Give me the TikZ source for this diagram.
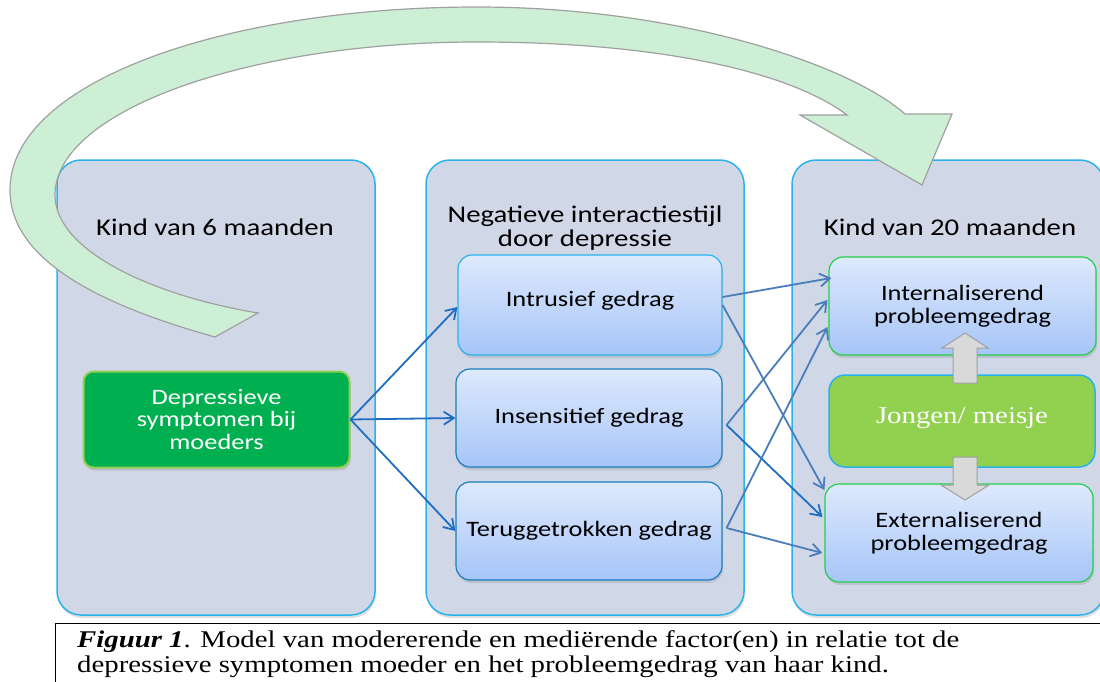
\documentclass[tikz,border=0pt]{standalone}
\usepackage{fontspec}
\setmainfont{Carlito}[FakeStretch=1.2]
\newfontfamily\capfont{Liberation Serif}[FakeStretch=1.2]
\usetikzlibrary{arrows.meta,shadows}
\definecolor{panelfill}{HTML}{D0D8E8}
\definecolor{panelline}{HTML}{29B3EA}
\definecolor{boxtop}{HTML}{DEE9FC}
\definecolor{boxbottom}{HTML}{A6C5F8}
\definecolor{boxline}{HTML}{1A7DBE}
\definecolor{deepgreen}{HTML}{00B050}
\definecolor{lightgreen}{HTML}{92D050}
\definecolor{edgegreen}{HTML}{22D04A}
\definecolor{bandfill}{HTML}{CCEFD6}
\definecolor{bandline}{HTML}{A0A0A0}
\definecolor{arrowblue}{HTML}{1F6EC2}
\definecolor{linkblue}{HTML}{4A7EBB}
\definecolor{blockfill}{HTML}{D9D9D9}
\begin{document}
\begin{tikzpicture}[x=1pt,y=-1pt,>={Straight Barb[length=10pt,width=13pt]},
  softshadow/.style={drop shadow={opacity=0.25,shadow xshift=1pt,shadow yshift=-3pt}},
  panel/.style={draw=panelline,line width=1.5pt,fill=panelfill,rounded corners=24pt,
    minimum width=318pt,minimum height=455pt,softshadow},
  heading/.style={font=\fontsize{24}{24}\selectfont,align=center},
  subbox/.style={draw=panelline,line width=1.2pt,top color=boxtop,bottom color=boxbottom,
    rounded corners=14pt,minimum width=266pt,minimum height=98pt,align=center,
    font=\fontsize{22}{23}\selectfont,softshadow},
  probbox/.style={subbox,draw=edgegreen},
  startbox/.style={draw=lightgreen,line width=2pt,fill=deepgreen,text=white,rounded corners=10pt,
    minimum width=266pt,minimum height=96pt,align=center,font=\fontsize{22}{22.5}\selectfont,softshadow},
  genderbox/.style={draw=panelline,line width=1.5pt,fill=lightgreen,text=white,rounded corners=16pt,
    minimum width=266pt,minimum height=92pt,font=\capfont\fontsize{24}{24}\selectfont},
  bluearrow/.style={->,draw=arrowblue,line width=1.8pt},
  linkarrow/.style={->,draw=linkblue,line width=1.8pt},
  blockarrow/.style={draw=bandline,fill=blockfill,line width=1pt,line join=miter},
  band/.style={draw=bandline,fill=bandfill,line width=1.2pt,line join=miter}]
\useasboundingbox (0,0) rectangle (1100,681);
% three columns
\node[panel] (col1) at (216,387.5) {};
\node[panel] (col2) at (585,387.5) {};
\node[panel,minimum width=312pt] (col3) at (948,387.5) {};
\node[heading] (head1) at (215,227) {Kind van 6 maanden};
\node[heading] (head2) at (585,228) {Negatieve interactiestijl\\door depressie};
\node[heading] (head3) at (950,227) {Kind van 20 maanden};
% boxes
\node[startbox] (dep) at (216.5,419.5) {Depressieve\\symptomen bij\\moeders};
\node[subbox,minimum width=264pt,minimum height=100pt] (intr) at (590,305) {\raisebox{12pt}{Intrusief gedrag}};
\node[subbox,draw=boxline] (ins) at (589,418) {Insensitief gedrag};
\node[subbox,draw=boxline] (ter) at (589,531) {Teruggetrokken gedrag};
\node[probbox,minimum width=267pt] (intern) at (962.5,306) {Internaliserend\\probleemgedrag};
\node[genderbox] (jong) at (962,421) {\raisebox{11pt}{Jongen/ meisje}};
\node[probbox,minimum width=268pt] (extern) at (959,533) {Externaliserend\\probleemgedrag};
% mother to interaction style
\draw[bluearrow] (dep.east) -- ([yshift=-2pt]intr.west);
\draw[bluearrow] (dep.east) -- (ins.west);
\draw[bluearrow] (dep.east) -- (ter.west);
% interaction style to child
\draw[linkarrow] ([yshift=8pt]intr.east) -- ([xshift=3pt,yshift=28pt]intern.west);
\draw[linkarrow] (intr.east) -- ([yshift=43pt]extern.west);
\draw[linkarrow] ([xshift=4pt,yshift=-7pt]ins.east) -- ([xshift=-1pt,yshift=6pt]intern.west);
\draw[linkarrow,draw=arrowblue] ([xshift=4pt,yshift=-7pt]ins.east) -- ([xshift=-2pt,yshift=16pt]extern.west);
\draw[linkarrow] ([xshift=4pt,yshift=3pt]ter.east) -- ([xshift=-1pt,yshift=-21pt]intern.west);
\draw[linkarrow] ([xshift=4pt,yshift=3pt]ter.east) -- ([xshift=-2pt,yshift=-20pt]extern.west);
% gender moderator
\draw[blockarrow] (953,383) -- (953,348) -- (942,348) -- (965,333) -- (988,348) -- (977,348) -- (977,383) -- cycle;
\draw[blockarrow] (953,457) -- (953,485) -- (941,485) -- (965,500) -- (989,485) -- (977,485) -- (977,457) -- cycle;
% big arrow over the top
\draw[band] (215,337) .. controls (100,305) and (10,260) .. (10,190)
  .. controls (10,80) and (230,7) .. (477,7)
  .. controls (680,7) and (850,65) .. (905,114)
  -- (952,114) -- (922,185) -- (800,115) -- (847,115)
  .. controls (790,72) and (660,42) .. (477,42)
  .. controls (250,42) and (55,110) .. (55,195)
  .. controls (55,250) and (150,295) .. (258,313) -- cycle;
% caption
\draw[line width=0.8pt] (55,623) rectangle (1110,700);
\node[anchor=north west,align=left,inner sep=0pt,font=\capfont\fontsize{24}{25}\selectfont] (caption) at (77,630)
  {\textbf{\textit{Figuur 1}}. Model van modererende en mediërende factor(en) in relatie tot de\\
   depressieve symptomen moeder en het probleemgedrag van haar kind.};
\end{tikzpicture}
\end{document}
